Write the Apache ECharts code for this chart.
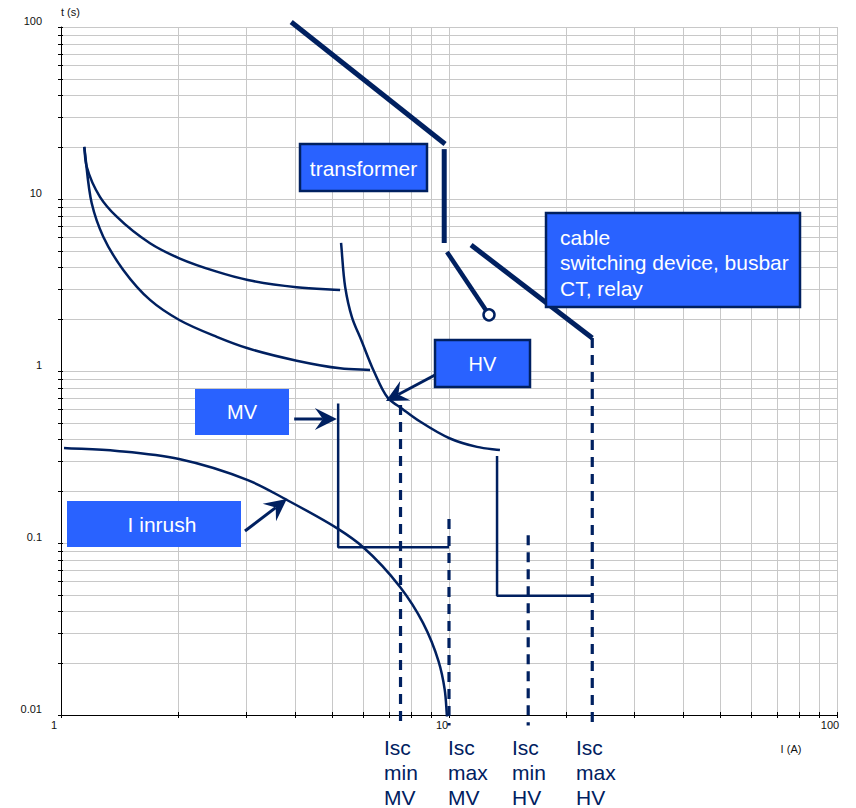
<!DOCTYPE html>
<html>
<head>
<meta charset="utf-8">
<script src="https://cdn.jsdelivr.net/npm/echarts@6/dist/echarts.min.js"></script>
<style>
html,body{margin:0;padding:0;background:#fff;}
#chart{width:856px;height:808px;}
</style>
</head>
<body>
<div id="chart"></div>
<script>
// ---------- axis ticks / labels ----------
const xTickValues = [1, 10, 100];
const xTickLabels = ['1', '10', '100'];
const yTickValues = [0.01, 0.1, 1, 10, 100];
const yTickLabels = ['0.01', '0.1', '1', '10', '100'];
const xGridValues = [1, 2, 3, 4, 5, 6, 7, 8, 9, 10, 20, 30, 40, 50, 60, 70, 80, 90, 100];
const yGridValues = [0.01, 0.02, 0.03, 0.04, 0.05, 0.06, 0.07, 0.08, 0.09,
                     0.1, 0.2, 0.3, 0.4, 0.5, 0.6, 0.7, 0.8, 0.9,
                     1, 2, 3, 4, 5, 6, 7, 8, 9,
                     10, 20, 30, 40, 50, 60, 70, 80, 90, 100];

// ---------- series values [I (A), t (s)] ----------
const transformerSlope = [[3.92, 107], [9.77, 20.9]];
const transformerDrop = [[9.72, 19.5], [9.72, 5.55]];
const transformerFuse = [[9.88, 4.92], [12.68, 2.12]];
const cableLimit = [[11.40, 5.40], [23.4, 1.555]];
const upperCurve = [[1.148, 20.1], [1.165, 15.4], [1.26, 10.3], [1.392, 7.89], [1.696, 5.53],
                    [2.018, 4.52], [2.52, 3.78], [3.03, 3.38], [4.05, 3.07], [5.24, 2.96]];
const lowerCurve = [[1.148, 20.1], [1.20, 9.44], [1.285, 6.04], [1.447, 3.87], [1.696, 2.59],
                    [2.018, 1.98], [2.52, 1.58], [3.03, 1.355], [4.05, 1.148], [5.24, 1.037], [6.26, 1.013]];
const hvCurve = [[5.27, 5.55], [5.40, 3.08], [5.62, 2.06], [5.95, 1.50], [6.40, 1.00], [6.95, 0.70],
                 [7.60, 0.60], [8.40, 0.51], [10.06, 0.405], [11.81, 0.362], [13.53, 0.347]];
const hvStep = [[13.3, 0.32], [13.3, 0.0494], [23.4, 0.0494]];
const mvStep = [[5.18, 0.647], [5.18, 0.0944], [10.0, 0.0944]];
const inrushCurve = [[1.018, 0.357], [1.394, 0.343], [2.015, 0.308], [3.03, 0.232], [3.82, 0.178],
                     [5.14, 0.122], [6.00, 0.0948], [7.48, 0.0555], [8.57, 0.0343], [9.40, 0.0205],
                     [9.75, 0.0140], [9.88, 0.0098]];
const iscValues = [7.50, 10.0, 16.0, 23.4];
const iscTops = [0.634, 0.138, 0.111, 1.555];
const iscBottom = 0.0087;
const iscNames = ['Isc\nmin\nMV', 'Isc\nmax\nMV', 'Isc\nmin\nHV', 'Isc\nmax\nHV'];
const arrowFrom = [[3.99, 0.526], [9.20, 0.948], [2.98, 0.1174]];
const arrowTo = [[5.14, 0.526], [6.88, 0.669], [3.82, 0.180]];

// ---------- styles ----------
const NAVY = '#002060';
const BLUE = '#2962FF';
const GRID = '#c8c8c8';
const FONT = '"Liberation Sans", Arial, sans-serif';

const chart = echarts.init(document.getElementById('chart'), null, {renderer: 'svg'});

function lineSeries(name, data, width, extra) {
  return Object.assign({
    name: name, type: 'line', data: data, symbol: 'none', clip: false,
    lineStyle: {color: NAVY, width: width}, itemStyle: {color: NAVY},
    z: 3, silent: true
  }, extra || {});
}

// smooth curve through data points (centripetal Catmull-Rom, in pixel space via api.coord)
function curveSeries(name, pts, width) {
  return {
    type: 'custom', name: name, silent: true, z: 3, clip: false,
    data: pts, encode: {x: 0, y: 1},
    renderItem: function (params, api) {
      if (params.dataIndex !== 0) return null;
      const P = pts.map(p => api.coord(p));
      const n = P.length;
      const get = i => {
        if (i < 0) return [2 * P[0][0] - P[1][0], 2 * P[0][1] - P[1][1]];
        if (i >= n) return [2 * P[n - 1][0] - P[n - 2][0], 2 * P[n - 1][1] - P[n - 2][1]];
        return P[i];
      };
      let d = 'M' + P[0][0] + ' ' + P[0][1];
      for (let i = 0; i < n - 1; i++) {
        const p0 = get(i - 1), p1 = P[i], p2 = P[i + 1], p3 = get(i + 2);
        const d1 = Math.pow(Math.hypot(p1[0] - p0[0], p1[1] - p0[1]), 0.5) || 1e-6;
        const d2 = Math.pow(Math.hypot(p2[0] - p1[0], p2[1] - p1[1]), 0.5) || 1e-6;
        const d3 = Math.pow(Math.hypot(p3[0] - p2[0], p3[1] - p2[1]), 0.5) || 1e-6;
        const b1 = [0, 1].map(k => (d1 * d1 * p2[k] - d2 * d2 * p0[k] + (2 * d1 * d1 + 3 * d1 * d2 + d2 * d2) * p1[k]) / (3 * d1 * (d1 + d2)));
        const b2 = [0, 1].map(k => (d3 * d3 * p1[k] - d2 * d2 * p3[k] + (2 * d3 * d3 + 3 * d3 * d2 + d2 * d2) * p2[k]) / (3 * d3 * (d3 + d2)));
        d += ' C' + b1[0] + ' ' + b1[1] + ' ' + b2[0] + ' ' + b2[1] + ' ' + p2[0] + ' ' + p2[1];
      }
      return {type: 'path', shape: {pathData: d}, style: {stroke: NAVY, lineWidth: width, fill: 'none'}};
    }
  };
}

function px(v) { return Math.round(v) + 0.5; }

const series = [];

// minor grid + ticks (vertical)
series.push({
  type: 'custom', name: 'xgrid', silent: true, z: 1,
  data: xGridValues.map(v => [v, 0.01]),
  encode: {x: 0, y: 1},
  renderItem: function (params, api) {
    const v = api.value(0);
    const p1 = api.coord([v, 0.01]);
    const p2 = api.coord([v, 100]);
    const x = px(p1[0]);
    const children = [];
    if (xTickValues.indexOf(v) < 0) {
      children.push({type: 'line', shape: {x1: x, y1: p2[1], x2: x, y2: p1[1]}, style: {stroke: GRID, lineWidth: 1}});
    }
    children.push({type: 'line', shape: {x1: x, y1: p1[1] - 3, x2: x, y2: p1[1] + 3}, style: {stroke: '#000', lineWidth: 1}});
    return {type: 'group', children: children};
  }
});
// minor grid + ticks (horizontal)
series.push({
  type: 'custom', name: 'ygrid', silent: true, z: 1,
  data: yGridValues.map(v => [1, v]),
  encode: {x: 0, y: 1},
  renderItem: function (params, api) {
    const v = api.value(1);
    const p1 = api.coord([1, v]);
    const p2 = api.coord([100, v]);
    const y = px(p1[1]);
    const children = [];
    if (yTickValues.indexOf(v) < 0) {
      children.push({type: 'line', shape: {x1: p1[0], y1: y, x2: p2[0], y2: y}, style: {stroke: GRID, lineWidth: 1}});
    }
    children.push({type: 'line', shape: {x1: p1[0] - 3, y1: y, x2: p1[0] + 2, y2: y}, style: {stroke: '#000', lineWidth: 1}});
    return {type: 'group', children: children};
  }
});

series.push(lineSeries('transformer slope', transformerSlope, 5));
series.push(lineSeries('transformer drop', transformerDrop, 5));
series.push(Object.assign(lineSeries('transformer fuse', transformerFuse.map((p, i) => i === 0 ? {value: p, symbol: 'none'} : {value: p, symbol: 'circle', symbolSize: 11}), 4.5), {
  symbol: 'circle', showSymbol: true, showAllSymbol: true,
  itemStyle: {color: '#fff', borderColor: NAVY, borderWidth: 2.5}
}));
series.push(lineSeries('cable', cableLimit, 5));
series.push(curveSeries('upper curve', upperCurve, 2.5));
series.push(curveSeries('lower curve', lowerCurve, 2.5));
series.push(curveSeries('HV curve', hvCurve, 2.5));
series.push(lineSeries('HV step', hvStep, 2.5));
series.push(lineSeries('MV step', mvStep, 2.5));
series.push(curveSeries('I inrush', inrushCurve, 2.5));
iscValues.forEach((v, i) => {
  series.push(lineSeries(iscNames[i].replace(/\n/g, ' '), [[v, iscTops[i]], [v, iscBottom]], 3.2,
    {lineStyle: {color: NAVY, width: 3.2, type: [10, 7]}}));
});

// arrows
series.push({
  type: 'custom', name: 'arrows', silent: true, z: 6,
  data: arrowFrom.map((f, i) => [f[0], f[1], arrowTo[i][0], arrowTo[i][1]]),
  encode: {x: [0, 2], y: [1, 3]},
  renderItem: function (params, api) {
    const s = api.coord([api.value(0), api.value(1)]);
    const t = api.coord([api.value(2), api.value(3)]);
    const dx = t[0] - s[0], dy = t[1] - s[1];
    const len = Math.hypot(dx, dy);
    const ux = dx / len, uy = dy / len, nx = -uy, ny = ux;
    const L = 22, W = 11, N = 14;
    const b = [t[0] - ux * L, t[1] - uy * L];
    const notch = [t[0] - ux * N, t[1] - uy * N];
    return {type: 'group', children: [
      {type: 'line', shape: {x1: s[0], y1: s[1], x2: notch[0], y2: notch[1]}, style: {stroke: NAVY, lineWidth: 3}},
      {type: 'polygon', shape: {points: [t, [b[0] + nx * W, b[1] + ny * W], notch, [b[0] - nx * W, b[1] - ny * W]]}, style: {fill: NAVY}}
    ]};
  }
});

function box(x, y, w, h, border) {
  return {type: 'rect', z: 100, shape: {x: x, y: y, width: w, height: h},
    style: {fill: BLUE, stroke: border ? NAVY : null, lineWidth: border ? 2.5 : 0}};
}
function txt(text, x, y, align, vAlign, size, color, lh) {
  return {type: 'text', z: 101, x: x, y: y,
    style: {text: text, fill: color, font: size + 'px ' + FONT, align: align, verticalAlign: vAlign, lineHeight: lh || size * 1.2}};
}

const graphics = [
  box(300, 144, 127, 47, true),
  txt('transformer', 363.5, 168, 'center', 'middle', 21, '#fff'),
  box(546, 213, 254, 94, true),
  txt('cable\nswitching device, busbar\nCT, relay', 560, 224.5, 'left', 'top', 21, '#fff', 25.5),
  box(435, 340, 95, 47, true),
  txt('HV', 482.5, 364, 'center', 'middle', 20, '#fff'),
  box(195, 389, 94, 46, false),
  txt('MV', 242, 412, 'center', 'middle', 20, '#fff'),
  box(67, 501, 174, 46, false),
  txt('I inrush', 162, 524.5, 'center', 'middle', 21, '#fff')
];
const iscLeft = [384, 448, 512, 576];
iscNames.forEach((n, i) => graphics.push(txt(n, iscLeft[i], 735, 'left', 'top', 21, NAVY, 25)));

chart.setOption({
  animation: false,
  backgroundColor: '#fff',
  textStyle: {fontFamily: FONT},
  grid: {left: 61, right: 19, top: 27, bottom: 93},
  xAxis: {
    type: 'log', logBase: 10, min: 1, max: 100,
    name: 'I (A)', nameLocation: 'end', nameGap: -46,
    nameTextStyle: {fontSize: 11, color: '#111', align: 'center', verticalAlign: 'top', padding: [28, 0, 0, 0], fontFamily: FONT},
    axisLine: {show: true, lineStyle: {color: '#000', width: 1}},
    axisTick: {show: false},
    axisLabel: {fontSize: 11, color: '#111', margin: 4, padding: [0, 14, 0, 0], fontFamily: FONT,
      formatter: v => { const i = xTickValues.findIndex(t => Math.abs(Math.log10(t) - Math.log10(v)) < 1e-6); return i >= 0 ? xTickLabels[i] : ''; }},
    splitLine: {show: true, lineStyle: {color: GRID, width: 1}}
  },
  yAxis: {
    type: 'log', logBase: 10, min: 0.01, max: 100,
    name: 't (s)', nameLocation: 'end', nameGap: 15,
    nameTextStyle: {fontSize: 11, color: '#111', align: 'left', verticalAlign: 'middle', fontFamily: FONT},
    axisLine: {show: true, lineStyle: {color: '#000', width: 1}},
    axisTick: {show: false},
    axisLabel: {fontSize: 11, color: '#111', margin: 19, verticalAlign: 'bottom', lineHeight: 12, fontFamily: FONT,
      formatter: v => { const i = yTickValues.findIndex(t => Math.abs(Math.log10(t) - Math.log10(v)) < 1e-6); return i >= 0 ? yTickLabels[i] : ''; }},
    splitLine: {show: true, lineStyle: {color: GRID, width: 1}}
  },
  series: series,
  graphic: graphics
});
</script>
</body>
</html>
